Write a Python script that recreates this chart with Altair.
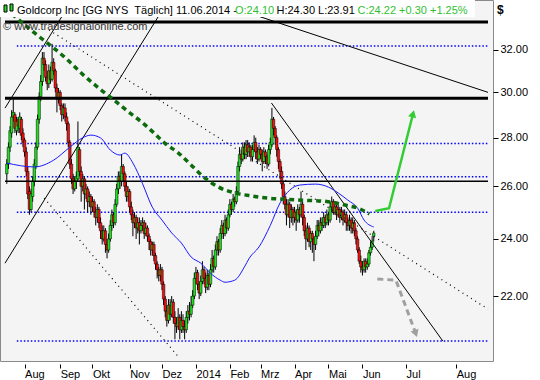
import altair as alt
import pandas as pd

FONT = "Liberation Sans"
X_DOM = [-12.12, 286.67]          # trading-day index (0 = 1 Aug 2013)
Y_DOM = [19.93, 34.53]

month_pos = [0, 22, 42, 65, 85, 106, 127, 146, 167, 188, 209, 236, 267]
month_lab = ["Aug", "Sep", "Okt", "Nov", "Dez", "2014", "Feb", "Mrz", "Apr", "Mai", "Jun", "Jul", "Aug"]
price_ticks = [22, 24, 26, 28, 30, 32]

first_day = -11
opens = [26.5, 26.9, 27.6, 28.2, 28.9, 29.0, 28.3, 28.8, 28.4, 28.8, 28.2, 27.9,
         27.4, 26.6, 25.8, 25.1, 25.6, 26.2, 26.8,
         27.6, 28.8, 29.8, 30.5, 31.6, 31.3, 30.7, 30.4, 31.0, 30.6, 31.4,
         31.0, 30.2, 29.7, 30.0, 29.4, 29.0, 29.3, 28.9, 28.6,
         27.8, 26.9, 26.3, 25.9, 26.2, 26.3,
         27.5, 26.6, 26.0, 26.3, 25.7, 25.9, 25.4, 25.6,
         25.2, 25.4, 25.0, 24.8, 25.1, 24.6, 24.3, 24.0, 24.3, 23.8, 23.6,
         24.0, 24.5, 24.9, 24.6, 25.3, 25.9, 26.4, 26.2, 26.8,
         26.5, 26.0, 25.6, 25.8, 25.2, 24.9, 24.6, 24.8, 24.4, 24.6, 24.3,
         24.5, 24.6, 24.2, 24.4, 24.1,
         23.9, 23.6, 23.8, 23.4, 23.1, 22.9, 22.7, 22.9, 22.4, 21.9, 21.5,
         21.2, 21.7, 21.4, 21.8, 21.3, 21.1, 21.0, 21.3, 20.9, 21.2, 21.0, 20.9, 21.3, 21.5, 21.4, 21.7,
         22.0, 22.6, 22.8, 22.4, 22.1, 22.5, 22.9, 22.6, 22.3, 22.7, 22.4, 22.9, 23.3, 23.0,
         23.6, 23.9, 23.6, 24.2, 24.5, 24.2, 24.7, 24.4, 24.9, 25.3, 25.1, 25.5, 25.4, 25.8, 26.8, 27.3, 27.1,
         27.6, 27.3, 27.7, 27.4, 27.6, 27.2, 27.5, 27.8, 27.4, 27.1, 27.5, 27.3, 27.0, 27.4, 27.2, 26.9,
         27.5, 27.7, 28.8, 28.4, 28.0,
         27.5, 27.0, 26.6, 26.1, 25.6, 25.3, 24.9, 25.3, 24.8,
         25.1, 24.8, 25.0, 24.7, 25.1, 24.9, 25.3,
         24.8, 24.3, 24.0, 24.4, 23.9, 24.2, 24.0, 23.8, 24.1,
         24.5, 24.3, 24.6, 24.5, 24.8, 24.6, 24.9, 24.7, 25.2, 25.4, 25.0, 25.2, 24.9, 25.1, 24.8, 25.0,
         24.7, 24.9, 24.6, 24.5, 24.7, 24.4, 24.6, 24.3,
         24.0, 23.6, 23.2, 23.0, 22.9, 23.2, 23.0, 23.1, 23.5, 23.7, 24.10]
highs = [27.1, 27.8, 28.5, 29.2, 29.7, 29.1, 28.9, 28.9, 29.1, 28.9, 28.4, 28.0,
         27.6, 26.8, 26.0, 25.9, 26.4, 27.1, 27.8,
         29.0, 30.0, 30.8, 31.9, 31.9, 31.5, 31.0, 31.3, 31.2, 32.3, 31.6,
         31.1, 30.4, 30.2, 30.1, 29.5, 29.5, 29.5, 29.1, 28.7,
         27.9, 27.1, 26.5, 26.4, 26.6, 28.7,
         27.6, 26.8, 26.5, 26.4, 26.1, 26.0, 25.8, 25.7,
         25.6, 25.5, 25.2, 25.3, 25.2, 24.8, 24.5, 24.5, 24.4, 24.0, 24.2,
         24.7, 25.1, 25.0, 25.5, 26.1, 26.6, 26.6, 27.3, 26.9,
         26.6, 26.2, 26.0, 25.9, 25.4, 25.1, 25.0, 24.9, 24.8, 24.8, 24.7,
         24.8, 24.7, 24.6, 24.5, 24.2,
         24.0, 23.9, 23.9, 23.5, 23.2, 23.0, 23.1, 23.0, 22.5, 22.0, 21.7,
         21.9, 21.9, 22.0, 21.9, 21.5, 21.3, 21.6, 21.4, 21.5, 21.4, 21.2, 21.5, 21.7, 21.8, 22.0, 22.2,
         22.8, 23.0, 22.9, 22.5, 22.7, 23.2, 23.0, 22.8, 22.9, 22.8, 23.1, 23.6, 23.4, 23.8,
         24.1, 24.0, 24.4, 24.7, 24.6, 24.9, 24.8, 25.1, 25.5, 25.4, 25.7, 25.6, 26.0, 27.0, 27.6, 27.5, 27.8,
         27.8, 27.9, 27.9, 27.8, 27.7, 27.7, 28.1, 28.0, 27.6, 27.7, 27.6, 27.5, 27.6, 27.5, 27.3, 27.7,
         28.0, 29.3, 28.9, 28.5, 28.1,
         27.6, 27.1, 26.8, 26.2, 25.8, 25.5, 25.5, 25.4, 25.3,
         25.2, 25.2, 25.1, 25.3, 25.2, 25.8, 25.4,
         24.9, 24.5, 24.6, 24.5, 24.3, 24.3, 24.1, 24.3, 24.7,
         24.7, 24.8, 24.8, 25.0, 24.9, 25.1, 25.0, 25.4, 25.6, 25.5, 25.4, 25.3, 25.3, 25.2, 25.2, 25.1,
         25.1, 25.0, 24.8, 24.9, 24.8, 24.8, 24.7, 24.4,
         24.1, 23.7, 23.4, 23.2, 23.3, 23.3, 23.3, 23.6, 23.9, 24.1, 24.30]
lows = [26.1, 26.7, 27.4, 28.0, 28.7, 28.2, 28.1, 28.2, 28.2, 27.9, 27.6, 27.2,
        26.4, 25.5, 24.9, 25.0, 25.4, 26.0, 26.7,
        27.5, 28.6, 29.6, 30.3, 31.0, 30.5, 30.1, 30.2, 30.4, 30.5, 30.8,
        30.0, 29.1, 29.5, 29.2, 28.7, 28.8, 28.7, 28.3, 27.6,
        26.7, 26.1, 25.7, 25.8, 25.9, 26.2,
        26.4, 25.4, 25.8, 25.1, 25.5, 25.0, 25.2, 24.9,
        25.0, 24.8, 24.5, 24.6, 24.4, 24.0, 23.8, 23.9, 23.5, 23.3, 23.5,
        23.9, 24.3, 24.4, 24.5, 25.2, 25.7, 25.9, 26.0, 26.2,
        25.8, 25.4, 25.4, 25.0, 24.7, 24.1, 24.4, 24.0, 24.2, 23.8, 24.2,
        24.3, 24.0, 24.1, 23.9, 23.6,
        23.4, 23.4, 23.2, 22.9, 22.6, 22.5, 22.5, 22.2, 21.7, 21.3, 21.0,
        21.1, 21.2, 21.3, 21.1, 20.6, 20.8, 20.9, 20.6, 20.8, 20.8, 20.6, 20.8, 21.1, 21.2, 21.3, 21.6,
        21.9, 22.4, 22.2, 21.9, 22.0, 22.4, 22.4, 22.1, 22.2, 22.2, 22.3, 22.8, 22.8, 22.9,
        23.4, 23.4, 23.5, 24.0, 24.0, 24.1, 24.2, 24.3, 24.8, 24.9, 25.0, 25.2, 25.3, 25.7, 26.6, 26.9, 27.0,
        27.1, 27.1, 27.2, 27.2, 27.0, 27.0, 27.4, 27.1, 26.9, 27.0, 27.1, 26.6, 26.9, 26.9, 26.7, 26.8,
        27.3, 27.6, 28.1, 27.7, 27.2,
        26.7, 26.3, 25.9, 25.3, 25.1, 24.5, 24.8, 24.4, 24.6,
        24.5, 24.6, 24.3, 24.6, 24.6, 24.8, 24.5,
        24.1, 23.6, 23.9, 23.7, 23.6, 23.5, 23.2, 23.6, 24.0,
        24.1, 24.2, 24.3, 24.4, 24.4, 24.5, 24.5, 24.6, 25.0, 24.9, 24.9, 24.7, 24.8, 24.6, 24.7, 24.5,
        24.6, 24.3, 24.3, 24.3, 24.2, 24.2, 24.1, 23.8,
        23.5, 23.1, 22.8, 22.7, 22.8, 22.8, 22.9, 23.0, 23.4, 23.6, 23.91]
closes = [26.9, 27.6, 28.3, 28.9, 29.1, 28.4, 28.7, 28.5, 28.9, 28.1, 27.8, 27.4,
          26.6, 25.7, 25.1, 25.7, 26.2, 26.9, 27.6,
          28.8, 29.8, 30.5, 31.6, 31.3, 30.7, 30.4, 31.0, 30.6, 31.4, 31.0,
          30.2, 29.7, 30.0, 29.4, 29.0, 29.3, 28.9, 28.6, 27.8,
          26.9, 26.3, 25.9, 26.2, 26.4, 27.6,
          26.6, 26.0, 26.3, 25.7, 25.9, 25.4, 25.6, 25.2,
          25.4, 25.0, 24.8, 25.1, 24.6, 24.3, 24.0, 24.3, 23.8, 23.6, 24.0,
          24.5, 24.9, 24.6, 25.3, 25.9, 26.4, 26.2, 26.8, 26.5,
          26.0, 25.6, 25.8, 25.2, 24.9, 24.6, 24.8, 24.4, 24.6, 24.3, 24.5,
          24.6, 24.2, 24.4, 24.1, 23.9,
          23.6, 23.8, 23.4, 23.1, 22.9, 22.7, 22.9, 22.4, 21.9, 21.5, 21.2,
          21.7, 21.4, 21.8, 21.3, 21.1, 21.0, 21.3, 20.9, 21.2, 21.0, 20.9, 21.3, 21.5, 21.4, 21.7, 22.0,
          22.6, 22.8, 22.4, 22.1, 22.5, 22.9, 22.6, 22.3, 22.7, 22.4, 22.9, 23.3, 23.0, 23.6,
          23.9, 23.6, 24.2, 24.5, 24.2, 24.7, 24.4, 24.9, 25.3, 25.1, 25.5, 25.4, 25.8, 26.8, 27.3, 27.1, 27.6,
          27.3, 27.7, 27.4, 27.6, 27.2, 27.5, 27.8, 27.4, 27.1, 27.5, 27.3, 27.0, 27.4, 27.2, 26.9, 27.5,
          27.8, 28.8, 28.4, 28.0, 27.5,
          27.0, 26.6, 26.1, 25.6, 25.3, 24.9, 25.3, 24.8, 25.1,
          24.8, 25.0, 24.7, 25.1, 24.9, 25.3, 24.8,
          24.3, 24.0, 24.4, 23.9, 24.2, 24.0, 23.8, 24.1, 24.5,
          24.3, 24.6, 24.5, 24.8, 24.6, 24.9, 24.7, 25.2, 25.4, 25.0, 25.2, 24.9, 25.1, 24.8, 25.0, 24.7,
          24.9, 24.6, 24.5, 24.7, 24.4, 24.6, 24.3, 24.0,
          23.6, 23.2, 23.0, 22.9, 23.2, 23.0, 23.1, 23.5, 23.7, 23.92, 24.22]

# 50-day moving average (blue)
ma_day = [-11, 6, 18, 28, 36, 41, 47, 53, 59, 62, 67, 73, 79, 85, 91, 97, 103, 109, 115, 121,
          124, 130, 136, 139, 145, 152, 158, 164, 170, 180, 188, 194, 200, 206, 210, 216]
ma_val = [26.94, 26.78, 27.06, 27.6, 28.0, 28.11, 27.99, 27.48, 27.27, 27.35, 26.94, 26.1, 25.19, 24.70,
          24.22, 23.85, 23.35, 23.13, 22.78, 22.54, 22.47, 22.54, 23.0, 23.31, 23.71, 24.5, 25.35, 25.85,
          26.05, 26.09, 25.97, 25.74, 25.46, 25.15, 24.70, 24.44]

# long moving average (thick dark-green dashes)
trend_day = [-12.12, -1.2, 7.3, 25.5, 36.4, 46.7, 54.5, 62.4, 74.5, 78.8, 86.7, 95.2, 103.0, 110.9,
             120.0, 130.3, 140.6, 150.3, 160.6, 171.5, 187.9, 198.2, 207.9, 213.3]
trend_val = [34.1, 33.34, 32.77, 31.6, 30.8, 30.15, 29.7, 29.23, 28.55, 28.28, 27.77, 27.35, 26.86,
             26.37, 25.97, 25.74, 25.62, 25.54, 25.50, 25.46, 25.40, 25.27, 25.11, 24.93]

fib_levels = [32.2, 27.75, 26.38, 25.0, 20.55]
fib_from = -4.8
thick_levels = [33.39, 29.73]
thin_levels = [26.2]

solid_d0 = [-12.12, -12.12, 152.7, 114.5]
solid_p0 = [29.29, 23.13, 29.52, 34.53]
solid_d1 = [29.4, 89.1, 258.8, 286.67]
solid_p1 = [34.53, 34.53, 20.54, 30.0]

dot_d0 = [15.15, 12.1]
dot_p0 = [32.99, 25.54]
dot_d1 = [286.67, 95.8]
dot_p1 = [21.57, 20.02]

up_day = [216.97, 225.45, 240.3]
up_val = [25.04, 25.15, 29.04]
down_day = [218.2, 229.7, 241.99]
down_val = [22.58, 22.54, 20.78]

# ------------------------------------------------------------------
n = len(closes)
assert len(opens) == len(highs) == len(lows) == n
days = list(range(first_day, first_day + n))
candles = pd.DataFrame({"d": days, "o": opens, "h": highs, "l": lows, "c": closes})

xs = alt.Scale(domain=X_DOM, nice=False, zero=False)
ys = alt.Scale(type="log", domain=Y_DOM, nice=False, zero=False)

label_expr = "[" + ",".join("'%s'" % m for m in month_lab) + "][indexof([" + \
    ",".join(str(v) for v in month_pos) + "], datum.value)]"

x_axis = alt.Axis(values=month_pos, labelExpr=label_expr, tickSize=4, offset=3, labelAlign="left",
                  labelBaseline="top", labelPadding=0, labelFlush=False, labelOverlap=False,
                  domain=False, grid=False, title=None, tickColor="black",
                  labelFont=FONT, labelFontSize=11, labelColor="black")
y_axis = alt.Axis(values=price_ticks, format=".2f", orient="right", tickSize=5, labelPadding=2,
                  domain=False, grid=False, title=None, tickColor="black",
                  labelFont=FONT, labelFontSize=11, labelColor="black")


def X(f):
    return alt.X(f, scale=xs, axis=x_axis)


def Y(f):
    return alt.Y(f, scale=ys, axis=y_axis)


fib_df = pd.DataFrame({"p": fib_levels, "d0": fib_from, "d1": X_DOM[1]})
fib = alt.Chart(fib_df).mark_rule(color="#0000ff", strokeDash=[1.5, 2], strokeWidth=1.5).encode(
    x=X("d0:Q"), x2="d1:Q", y=Y("p:Q"))

wicks = alt.Chart(candles).mark_rule(color="black", strokeWidth=1).encode(
    x=X("d:Q"), y=Y("l:Q"), y2="h:Q")

bodies = alt.Chart(candles).mark_bar(width=2.5, stroke="black", strokeWidth=0.5).encode(
    x=X("d:Q"), y=Y("o:Q"), y2="c:Q",
    color=alt.condition("datum.c >= datum.o", alt.value("#1ee01e"), alt.value("#f01010")))

hl_df = pd.DataFrame({"p": thick_levels + thin_levels,
                      "w": [3] * len(thick_levels) + [1.5] * len(thin_levels),
                      "d0": X_DOM[0], "d1": X_DOM[1]})
hlines = alt.Chart(hl_df).mark_rule(color="black").encode(
    x=X("d0:Q"), x2="d1:Q", y=Y("p:Q"),
    strokeWidth=alt.StrokeWidth("w:Q", scale=None))


def seg_frame(d0, p0, d1, p1):
    rows = []
    for k in range(len(d0)):
        rows.append({"k": k, "d": d0[k], "p": p0[k]})
        rows.append({"k": k, "d": d1[k], "p": p1[k]})
    return pd.DataFrame(rows)


solid = alt.Chart(seg_frame(solid_d0, solid_p0, solid_d1, solid_p1)).mark_line(
    color="black", strokeWidth=1, clip=True).encode(x=X("d:Q"), y=Y("p:Q"), detail="k:N")

dotted = alt.Chart(seg_frame(dot_d0, dot_p0, dot_d1, dot_p1)).mark_line(
    color="black", strokeWidth=1.2, strokeDash=[1, 4], clip=True).encode(
    x=X("d:Q"), y=Y("p:Q"), detail="k:N")

ma = alt.Chart(pd.DataFrame({"d": ma_day, "p": ma_val})).mark_line(
    color="#1a1aff", strokeWidth=1, interpolate="monotone").encode(x=X("d:Q"), y=Y("p:Q"))

trend = alt.Chart(pd.DataFrame({"d": trend_day, "p": trend_val})).mark_line(
    color="#0d6b0d", strokeWidth=3.5, strokeDash=[5, 4], interpolate="monotone", clip=True).encode(
    x=X("d:Q"), y=Y("p:Q"))

up_df = pd.DataFrame({"d": up_day, "p": up_val})
up_line = alt.Chart(up_df).mark_line(color="#33cc33", strokeWidth=2.5).encode(x=X("d:Q"), y=Y("p:Q"))
up_head = alt.Chart(up_df.tail(1)).mark_point(shape="triangle-up", filled=True, size=70, angle=15,
                                              color="#33cc33", opacity=1).encode(x=X("d:Q"), y=Y("p:Q"))

down_df = pd.DataFrame({"d": down_day, "p": down_val})
down_line = alt.Chart(down_df).mark_line(color="#a0a0a0", strokeWidth=3, strokeDash=[6, 4]).encode(
    x=X("d:Q"), y=Y("p:Q"))
down_head = alt.Chart(down_df.tail(1)).mark_point(shape="triangle-down", filled=True, size=70, angle=340,
                                                  color="#a0a0a0", opacity=1).encode(x=X("d:Q"), y=Y("p:Q"))

one = pd.DataFrame({"t": [""]})
header_box = alt.Chart(one).mark_rect(color="white").encode(
    x=alt.value(0), x2=alt.value(475), y=alt.value(0), y2=alt.value(17))
icon1 = alt.Chart(one).mark_rect(color="#1ee01e", stroke="black", strokeWidth=1).encode(
    x=alt.value(4), x2=alt.value(7), y=alt.value(5), y2=alt.value(12))
icon2 = alt.Chart(one).mark_rect(color="#1ee01e", stroke="black", strokeWidth=1).encode(
    x=alt.value(10), x2=alt.value(13), y=alt.value(4), y2=alt.value(11))


def txt(s, x, y, color, size=11, weight="normal"):
    return alt.Chart(pd.DataFrame({"t": [s]})).mark_text(
        align="left", baseline="alphabetic", font=FONT, fontSize=size, color=color,
        fontWeight=weight).encode(x=alt.value(x), y=alt.value(y), text="t:N")


texts = [
    txt("Goldcorp Inc [GG NYS \u00a0T\u00e4glich] 11.06.2014 -", 17, 13.5, "black"),
    txt("O:24.10", 235, 13.5, "#2fbf2f"),
    txt("H:24.30 L:23.91", 276.5, 13.5, "black"),
    txt("C:24.22 +0.30 +1.25%", 357.5, 13.5, "#2fbf2f"),
    txt("\u00a9 www.tradesignalonline.com", 3, 29.5, "#333333"),
    txt("$", 497, 14, "black", 12, "bold"),
]

chart = alt.layer(
    fib, wicks, bodies, hlines, solid, dotted, ma, trend,
    up_line, up_head, down_line, down_head,
    header_box, icon1, icon2, *texts
).properties(
    width=493, height=361, autosize="none",
    padding={"left": 0, "top": 0, "right": 47, "bottom": 19},
    background="white",
).configure_view(
    stroke="#8a8a8a", strokeWidth=1, fill="#f4f4f4"
)

chart.save("out.html", embed_options={"renderer": "svg", "actions": False})
